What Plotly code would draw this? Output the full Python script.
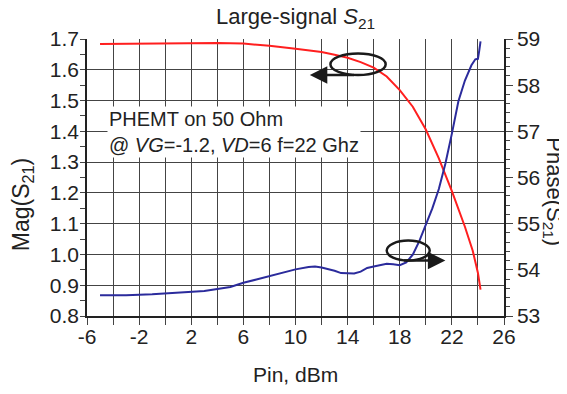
import plotly.graph_objects as go

# Magnitude of S21 (left axis)
pin_mag = [-5, -3, -1, 2, 4, 6, 8, 10, 12, 13, 14, 15, 16, 17, 18, 19, 20, 21, 22, 23, 23.6, 24.0, 24.2]
mag_s21 = [1.684, 1.685, 1.686, 1.687, 1.687, 1.685, 1.678, 1.668, 1.658, 1.649, 1.639, 1.625, 1.607, 1.578, 1.534,
           1.48, 1.406, 1.312, 1.206, 1.09, 1.012, 0.94, 0.886]

# Phase of S21 (right axis)
pin_ph = [-5, -3, -1, 1, 3, 5, 6, 7, 8, 9, 10, 11, 11.5, 12, 12.5, 13, 13.5, 14, 14.5, 15, 15.5, 16, 16.5, 17,
          17.5, 18, 18.5, 19, 19.5, 20, 20.5, 21, 21.5, 22, 22.5, 23, 23.5, 23.8, 24.0, 24.1, 24.2]
phase_s21 = [53.45, 53.45, 53.47, 53.50, 53.54, 53.63, 53.72, 53.79, 53.86, 53.93, 54.01, 54.06, 54.07, 54.05,
             54.02, 53.98, 53.93, 53.92, 53.92, 53.96, 54.04, 54.07, 54.10, 54.13, 54.12, 54.10, 54.16, 54.33,
             54.62, 54.97, 55.33, 55.75, 56.3, 56.95, 57.65, 58.1, 58.43, 58.56, 58.57, 58.75, 58.95]

x_tickvals = [-6, -2, 2, 6, 10, 14, 18, 22, 26]
x_ticktext = ["-6", "-2", "2", "6", "10", "14", "18", "22", "26"]
y_tickvals = [0.8, 0.9, 1.0, 1.1, 1.2, 1.3, 1.4, 1.5, 1.6, 1.7]
y_ticktext = ["0.8", "0.9", "1.0", "1.1", "1.2", "1.3", "1.4", "1.5", "1.6", "1.7"]

FONT = "Liberation Sans, Arial, sans-serif"
GRID = "#444"

fig = go.Figure()
fig.add_trace(go.Scatter(x=pin_mag, y=mag_s21, mode="lines",
                         line=dict(color="#ff1f1f", width=2), xaxis="x", yaxis="y", showlegend=False))
fig.add_trace(go.Scatter(x=pin_ph, y=phase_s21, mode="lines",
                         line=dict(color="#2b2b9c", width=2), xaxis="x", yaxis="y2", showlegend=False))

fig.update_layout(
    width=567, height=394,
    margin=dict(l=79, r=71, t=31, b=86),
    paper_bgcolor="white", plot_bgcolor="white",
    font=dict(family=FONT, size=21, color="#222"),
    showlegend=False,
    xaxis=dict(range=[-6, 26], tickvals=x_tickvals, ticktext=x_ticktext,
               showgrid=True, gridcolor=GRID, gridwidth=1,
               showline=True, linecolor="#222", linewidth=1.5, mirror=False,
               ticks="outside", ticklen=7, tickcolor=GRID, ticklabelstandoff=-6,
               minor=dict(dtick=2, tick0=-6, ticks="outside", ticklen=7, tickcolor=GRID,
                          showgrid=True, gridcolor=GRID, gridwidth=1),
               zeroline=False, tickfont=dict(size=21)),
    xaxis2=dict(range=[-6, 26], overlaying="x", anchor="y", side="bottom", dtick=1, tick0=-6,
                ticks="outside", ticklen=4, tickcolor=GRID, showticklabels=False,
                showgrid=False, showline=False, zeroline=False),
    yaxis=dict(range=[0.8, 1.7], tickvals=y_tickvals, ticktext=y_ticktext,
               showgrid=True, gridcolor=GRID, gridwidth=1,
               showline=True, linecolor="#222", linewidth=1.5,
               ticks="outside", ticklen=5, tickcolor=GRID, ticklabelstandoff=-3,
               minor=dict(dtick=0.05, tick0=0.8, ticks="outside", ticklen=5, tickcolor=GRID, showgrid=False),
               zeroline=False, tickfont=dict(size=21)),
    yaxis2=dict(range=[53, 59], dtick=1, overlaying="y", side="right",
                showgrid=False, showline=True, linecolor="#222", linewidth=1.5,
                ticks="outside", ticklen=7, tickcolor=GRID,
                minor=dict(dtick=0.2, tick0=53, ticks="outside", ticklen=4, tickcolor=GRID),
                zeroline=False, tickfont=dict(size=21)),
    shapes=[
        dict(type="circle", xref="x", yref="y", x0=12.68, x1=16.92, y0=1.583, y1=1.653,
             line=dict(color="#1a1a1a", width=2.5)),
        dict(type="circle", xref="x", yref="y", x0=17.0, x1=20.3, y0=0.98, y1=1.045,
             line=dict(color="#1a1a1a", width=2.5)),
    ],
    annotations=[
        dict(text="Large-signal <i>S</i><sub>21</sub>", xref="paper", yref="paper", x=0.5, y=1.0,
             yshift=21, showarrow=False, xanchor="center", yanchor="middle", font=dict(size=22)),
        dict(text="Mag(S<sub>21</sub>)", xref="paper", yref="paper", x=0, xshift=-65, y=0.40,
             textangle=-90, showarrow=False, xanchor="center", yanchor="middle", font=dict(size=23)),
        dict(text="Phase(S<sub>21</sub>)", xref="paper", yref="paper", x=1, xshift=49, y=0.45,
             textangle=90, showarrow=False, xanchor="center", yanchor="middle", font=dict(size=22)),
        dict(text="Pin, dBm", xref="paper", yref="paper", x=0.5, y=0, yshift=-58,
             showarrow=False, xanchor="center", yanchor="middle", font=dict(size=21)),
        dict(text="PHEMT on 50 Ohm<br>@ <i>VG</i>=-1.2, <i>VD</i>=6 f=22 Ghz", xref="x", yref="y",
             x=-4.5, y=1.398, xanchor="left", yanchor="middle", align="left", showarrow=False,
             bgcolor="white", borderpad=1, font=dict(size=20)),
        dict(text="", x=11.1, y=1.583, ax=14.6, ay=1.583, xref="x", yref="y", axref="x", ayref="y",
             showarrow=True, arrowhead=2, arrowsize=1.4, arrowwidth=2.5, arrowcolor="#1a1a1a", standoff=0),
        dict(text="", x=21.5, y=0.98, ax=18.2, ay=0.98, xref="x", yref="y", axref="x", ayref="y",
             showarrow=True, arrowhead=2, arrowsize=1.4, arrowwidth=2.5, arrowcolor="#1a1a1a", standoff=0),
    ],
)

fig.write_html("out.html")
